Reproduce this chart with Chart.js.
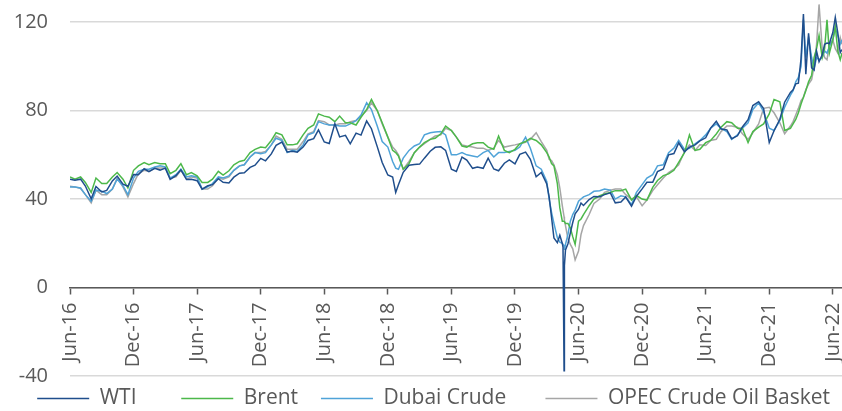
<!DOCTYPE html>
<html>
<head>
<meta charset="utf-8">
<script src="https://cdn.jsdelivr.net/npm/chart.js@4"></script>
<style>
  html, body { margin: 0; padding: 0; background: #fff; }
  #wrap { width: 842px; height: 411px; }
</style>
</head>
<body>
<div id="wrap"><canvas id="grafico"></canvas></div>
<script>
// datas (quinzenal, semanal na queda de 2020 e em 2022)
const datas = [
  '2016-06-01','2016-06-15','2016-07-01','2016-07-15','2016-08-01','2016-08-15','2016-09-01','2016-09-15','2016-10-01','2016-10-15','2016-11-01','2016-11-15','2016-12-01','2016-12-15',
  '2017-01-01','2017-01-15','2017-02-01','2017-02-15','2017-03-01','2017-03-15','2017-04-01','2017-04-15','2017-05-01','2017-05-15','2017-06-01','2017-06-15','2017-07-01','2017-07-15','2017-08-01','2017-08-15','2017-09-01','2017-09-15','2017-10-01','2017-10-15','2017-11-01','2017-11-15','2017-12-01','2017-12-15',
  '2018-01-01','2018-01-15','2018-02-01','2018-02-15','2018-03-01','2018-03-15','2018-04-01','2018-04-15','2018-05-01','2018-05-15','2018-06-01','2018-06-15','2018-07-01','2018-07-15','2018-08-01','2018-08-15','2018-09-01','2018-09-15','2018-10-01','2018-10-15','2018-11-01','2018-11-15','2018-12-01','2018-12-15','2018-12-24',
  '2019-01-01','2019-01-15','2019-02-01','2019-02-15','2019-03-01','2019-03-15','2019-04-01','2019-04-15','2019-05-01','2019-05-15','2019-06-01','2019-06-15','2019-07-01','2019-07-15','2019-08-01','2019-08-15','2019-09-01','2019-09-15','2019-10-01','2019-10-15','2019-11-01','2019-11-15','2019-12-01','2019-12-15',
  '2020-01-01','2020-01-15','2020-02-01','2020-02-15','2020-03-01','2020-03-08','2020-03-15','2020-03-22','2020-04-01','2020-04-08','2020-04-15','2020-04-17','2020-04-20','2020-04-21','2020-04-24','2020-05-01','2020-05-08','2020-05-15','2020-05-22','2020-06-01','2020-06-08','2020-06-15','2020-07-01','2020-07-15','2020-08-01','2020-08-15','2020-09-01','2020-09-15','2020-10-01','2020-10-15','2020-11-01','2020-11-15','2020-12-01','2020-12-15',
  '2021-01-01','2021-01-15','2021-02-01','2021-02-15','2021-03-01','2021-03-15','2021-04-01','2021-04-15','2021-05-01','2021-05-15','2021-06-01','2021-06-15','2021-07-01','2021-07-15','2021-08-01','2021-08-15','2021-09-01','2021-09-15','2021-10-01','2021-10-15','2021-11-01','2021-11-15','2021-12-01','2021-12-15',
  '2022-01-01','2022-01-15','2022-02-01','2022-02-08','2022-02-15','2022-02-22','2022-03-01','2022-03-08','2022-03-15','2022-03-23','2022-04-01','2022-04-08','2022-04-15','2022-04-22','2022-05-01','2022-05-08','2022-05-15','2022-05-22','2022-06-01','2022-06-08','2022-06-15','2022-06-22','2022-06-27'
]

const wti = [
  49.0, 48.5, 49.0, 45.9, 40.1, 45.7, 43.2, 43.9, 48.2, 50.4, 46.7, 45.8, 51.1, 51.0,
  53.7, 52.4, 53.9, 53.1, 54.0, 48.9, 50.6, 53.2, 48.8, 48.9, 48.3, 44.5, 46.0, 46.5, 49.2, 47.6, 47.3, 49.9, 51.7, 51.9, 54.3, 55.3, 58.4, 57.3,
  60.4, 64.3, 65.8, 61.3, 61.6, 61.2, 63.5, 66.5, 67.3, 71.3, 65.8, 65.1, 74.1, 68.1, 68.8, 65.0, 69.8, 68.9, 75.3, 71.8, 63.7, 56.5, 50.9, 50.0, 43.0,
  46.5, 52.1, 55.3, 55.6, 55.8, 58.5, 61.6, 63.4, 63.6, 62.0, 53.5, 52.5, 59.0, 57.6, 53.9, 54.5, 53.9, 58.5, 53.6, 52.8, 56.2, 57.7, 55.9, 60.2,
  61.2, 58.0, 50.1, 52.0, 46.8, 41.0, 31.7, 22.4, 20.3, 23.6, 19.9, 18.3, -37.6, 10.0, 17.0, 19.8, 24.7, 29.4, 33.3, 35.4, 38.2, 37.1, 39.8, 41.2, 41.0, 42.0, 42.8, 38.3, 38.7, 40.9, 36.8, 41.3, 44.6, 47.6,
  47.6, 52.4, 53.6, 60.0, 60.6, 65.4, 61.4, 63.5, 64.5, 66.3, 67.7, 72.1, 75.2, 71.7, 71.3, 67.3, 68.6, 72.6, 75.9, 82.3, 84.0, 80.9, 65.6, 70.9,
  76.1, 83.8, 88.2, 89.4, 92.1, 92.4, 103.4, 123.7, 96.4, 114.9, 99.3, 98.3, 106.9, 102.1, 105.2, 110.0, 110.5, 110.3, 115.3, 122.1, 115.3, 106.2, 107.6
]

const brent = [
  50.0, 49.0, 50.0, 47.5, 43.0, 49.5, 47.0, 47.0, 50.0, 52.0, 49.0, 45.0, 53.0, 55.0,
  56.5, 55.5, 56.5, 56.0, 56.0, 51.5, 53.0, 56.0, 51.0, 52.0, 50.5, 47.5, 47.5, 49.0, 52.5, 50.8, 52.8, 55.5, 57.0, 57.5, 61.0, 62.5, 63.5, 63.2,
  66.5, 70.0, 69.0, 64.5, 64.5, 65.0, 69.0, 72.0, 73.5, 78.5, 77.5, 77.0, 75.0, 77.5, 74.5, 74.5, 73.5, 77.0, 80.5, 85.0, 80.0, 74.5, 68.0, 62.0, 61.0,
  59.5, 53.5, 56.0, 61.0, 63.5, 65.5, 67.0, 67.5, 69.5, 73.0, 71.0, 68.0, 64.0, 63.5, 65.0, 65.5, 65.5, 63.5, 62.5, 68.5, 62.0, 61.0, 62.5, 65.0,
  66.0, 67.5, 66.5, 64.5, 61.0, 59.0, 56.0, 55.0, 47.0, 36.0, 30.0, 30.0, 30.0, 30.0, 29.0, 29.0, 27.0, 23.0, 19.5, 30.0, 31.0, 33.0, 37.0, 40.0, 41.5, 42.3, 43.0, 43.8, 43.8, 44.5, 39.6, 41.6, 40.0, 39.5,
  45.3, 48.4, 50.6, 51.4, 53.0, 56.6, 61.0, 69.0, 62.0, 62.5, 65.5, 66.5, 69.4, 72.5, 75.0, 74.5, 72.0, 72.0, 65.5, 70.5, 72.5, 74.0, 78.5, 85.0,
  84.0, 71.0, 72.0, 74.0, 76.0, 79.0, 83.0, 86.0, 89.0, 93.0, 96.0, 104.0, 108.0, 114.0, 104.0, 108.0, 121.0, 106.0, 112.0, 118.0, 107.0, 103.0, 106.0
]

const dubai = [
  45.5, 45.5, 45.0, 42.0, 39.0, 44.0, 43.5, 42.5, 44.5, 49.0, 46.0, 42.0, 49.5, 52.5,
  53.5, 53.5, 54.5, 55.0, 54.5, 49.5, 51.0, 53.5, 50.0, 50.5, 50.0, 44.5, 45.5, 47.0, 50.0, 49.5, 50.5, 53.0, 55.0, 55.5, 59.0, 61.0, 60.5, 61.0,
  64.5, 67.5, 66.5, 61.0, 62.0, 61.5, 64.5, 69.0, 70.0, 75.0, 74.0, 73.5, 73.5, 73.0, 73.0, 74.0, 75.5, 78.0, 83.5, 80.5, 73.0, 66.0, 63.5, 57.0, 54.0,
  53.5, 58.5, 62.0, 64.0, 65.0, 69.0, 70.0, 70.3, 70.5, 69.0, 60.0, 60.0, 61.0, 60.0, 59.5, 59.0, 61.0, 62.0, 59.0, 61.0, 61.0, 61.5, 62.0, 63.5,
  68.0, 63.0, 55.0, 53.5, 48.0, 40.0, 34.0, 29.0, 22.5, 20.5, 20.0, 19.5, 19.0, 17.0, 19.5, 24.0, 30.0, 33.0, 35.0, 39.0, 40.0, 41.0, 42.0, 43.5, 43.8, 44.5, 44.0, 40.0, 41.5, 41.0, 37.5, 43.0, 46.5, 49.5,
  51.0, 55.0, 55.5, 61.0, 63.0, 66.5, 62.5, 63.0, 65.0, 66.5, 69.0, 72.0, 74.0, 72.0, 70.5, 67.0, 69.0, 72.0, 74.5, 80.5, 83.5, 79.5, 72.0, 71.0,
  75.5, 81.5, 87.0, 89.0, 93.0, 95.0, 100.0, 121.0, 104.0, 113.0, 104.0, 99.0, 104.0, 103.0, 104.0, 107.0, 106.0, 109.0, 112.0, 117.0, 114.0, 110.0, 112.0
]

const opec = [
  45.8, 45.5, 44.8, 42.0, 38.3, 44.0, 42.0, 42.0, 44.5, 49.5, 45.5, 41.0, 47.0, 51.5,
  53.0, 52.5, 54.0, 54.0, 54.0, 49.5, 50.0, 53.0, 49.0, 50.0, 49.5, 44.5, 44.5, 46.0, 49.5, 49.0, 50.0, 53.0, 55.0, 55.5, 59.0, 61.0, 61.0, 61.5,
  64.5, 68.5, 67.0, 62.5, 62.5, 62.5, 66.0, 69.5, 70.5, 75.5, 75.0, 73.5, 73.5, 74.0, 74.0, 75.0, 75.5, 77.5, 80.0, 83.5, 80.0, 74.0, 68.0, 63.5, 62.0,
  60.0, 53.5, 57.0, 61.0, 63.5, 65.0, 67.0, 68.5, 69.0, 72.0, 71.0, 68.0, 64.5, 64.0, 63.5, 63.0, 63.0, 62.0, 63.0, 66.5, 63.5, 64.0, 64.5, 65.0,
  65.7, 67.0, 70.0, 66.0, 62.0, 58.0, 57.4, 55.5, 51.0, 45.0, 37.0, 35.0, 32.0, 30.5, 28.0, 22.0, 19.5, 17.5, 12.5, 16.5, 24.0, 28.0, 33.0, 38.0, 40.0, 43.0, 44.0, 44.5, 44.5, 42.0, 40.0, 41.0, 37.0, 39.5,
  43.8, 46.5, 49.5, 52.0, 53.5, 55.5, 61.5, 64.5, 62.0, 64.5, 64.2, 66.5, 67.0, 70.5, 73.0, 73.0, 72.5, 69.5, 67.0, 70.0, 74.0, 81.0, 81.5, 79.0,
  74.5, 69.5, 73.0, 75.0, 78.0, 81.0, 84.5, 86.0, 89.5, 92.0, 94.0, 100.0, 110.0, 128.0, 108.0, 104.0, 103.0, 110.0, 112.0, 108.0, 106.0, 113.0, 110.0
]

const nomes = ['WTI', 'Brent', 'Dubai Crude', 'OPEC Crude Oil Basket']
const cores = ['#1f4e8c', '#4cb84a', '#4fa3d8', '#a6a6a6']
const espacos = [6, 2, 5, 0]

const marcasX = [0, 6, 12, 18, 24, 30, 36, 42, 48, 54, 60, 66, 72]
const rotulosX = ['Jun-16', 'Dec-16', 'Jun-17', 'Dec-17', 'Jun-18', 'Dec-18', 'Jun-19', 'Dec-19', 'Jun-20', 'Dec-20', 'Jun-21', 'Dec-21', 'Jun-22']
const marcasY = [-40, 0, 40, 80, 120]

const fonte = "'Open Sans', sans-serif"
const cinza = '#595959'

// meses desde jun/2016
function meses(d){
    var p = d.split('-').map(Number)
    var diasMes = new Date(p[0], p[1], 0).getDate()
    return (p[0] - 2016) * 12 + (p[1] - 6) + (p[2] - 1) / diasMes
}

function serie(nome, valores, cor){
    return {
        label: nome,
        data: valores.map((v, i) => ({x: meses(datas[i]), y: v})),
        borderColor: cor,
        backgroundColor: cor,
        borderWidth: 1.5,
        pointRadius: 0,
        fill: false
    }
}

const fim = meses(datas[datas.length - 1])

const ctx = document.getElementById('grafico')
new Chart(ctx, {
    type: 'line',
    data: {
        datasets: [
            serie(nomes[0], wti, cores[0]),
            serie(nomes[1], brent, cores[1]),
            serie(nomes[2], dubai, cores[2]),
            serie(nomes[3], opec, cores[3])
        ]
    },
    options: {
        responsive: true,
        maintainAspectRatio: false,
        animation: false,
        layout: { padding: { top: 0, left: 0, right: 0, bottom: -8 } },
        plugins: {
            tooltip: { enabled: false },
            legend: {
                position: 'bottom',
                align: 'end',
                labels: {
                    boxWidth: 52,
                    boxHeight: 1.5,
                    padding: 12,
                    color: cinza,
                    font: { family: fonte, size: 21 },
                    generateLabels: chart => {
                        return Chart.defaults.plugins.legend.labels.generateLabels(chart).map((item, i) => {
                            item.text = item.text + '\u00a0'.repeat(espacos[i])
                            item.lineWidth = 0
                            return item
                        })
                    }
                }
            }
        },
        scales: {
            x: {
                type: 'linear',
                min: 0,
                max: fim,
                position: { y: 0 },
                afterBuildTicks: s => { s.ticks = marcasX.map(v => ({ value: v })) },
                afterFit: s => { s.paddingLeft = 0; s.paddingRight = 0 },
                grid: { drawOnChartArea: false, drawTicks: true, tickLength: 6, tickWidth: 1.5, color: cinza },
                border: { display: true, color: cinza, width: 1.5 },
                ticks: {
                    autoSkip: false,
                    maxRotation: 90,
                    minRotation: 90,
                    padding: 9,
                    color: cinza,
                    font: { family: fonte, size: 20 },
                    callback: (v, i) => rotulosX[i]
                }
            },
            y: {
                min: -40,
                max: 130,
                afterBuildTicks: s => { s.ticks = marcasY.map(v => ({ value: v })) },
                afterFit: s => { s.width = 70; s.paddingTop = 0; s.paddingBottom = 0 },
                grid: { drawTicks: false, color: '#d9d9d9', lineWidth: 1.5 },
                border: { display: false },
                ticks: {
                    padding: 22,
                    color: cinza,
                    font: { family: fonte, size: 20 }
                }
            }
        }
    }
})
</script>
</body>
</html>
